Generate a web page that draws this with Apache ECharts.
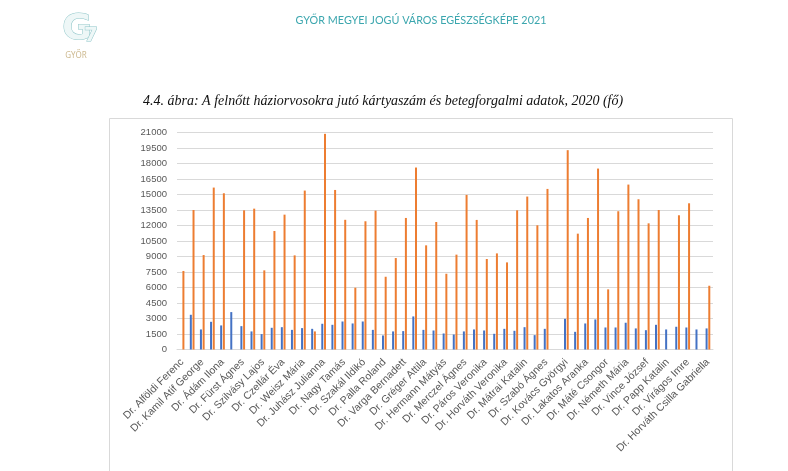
<!DOCTYPE html>
<html>
<head>
<meta charset="utf-8">
<script src="https://cdn.jsdelivr.net/npm/echarts@6/dist/echarts.min.js"></script>
<style>
html,body{margin:0;padding:0;background:#fff;}
#chart{width:788px;height:471px;}
</style>
</head>
<body>
<div id="chart"></div>
<script>
// Tick labels shown on the category axis (every other category carries a label)
const shownLabels = [
  "Dr. Alföldi Ferenc","Dr. Kamil Atif George","Dr. Ádám Ilona","Dr. Fürst Ágnes",
  "Dr. Szilvásy Lajos","Dr. Czellár Éva","Dr. Weisz Mária","Dr. Juhász Julianna",
  "Dr. Nagy Tamás","Dr. Szakál Ildikó","Dr. Palla Roland","Dr. Varga Bernadett",
  "Dr. Gréger Attila","Dr. Hermann Mátyás","Dr. Merczel Ágnes","Dr. Páros Veronika",
  "Dr. Horváth Veronika","Dr. Mátrai Katalin","Dr. Szabó Ágnes","Dr. Kovács Györgyi",
  "Dr. Lakatos Aranka","Dr. Máté Csongor","Dr. Németh Mária","Dr. Vince József",
  "Dr. Papp Katalin","Dr. Virágos Imre","Dr. Horváth Csilla Gabriella"
];
// Blue series: card numbers (kártyaszám) per doctor
const cardCounts = [
  null,3360,1940,2680,2330,3620,2260,1750,1490,2100,
  2160,1900,2070,2000,2490,2390,2710,2520,2710,1900,
  1360,1750,1780,3200,1900,1840,1550,1450,1750,1940,
  1840,1520,2000,1810,2160,1390,2000,null,2970,1710,
  2520,2910,2130,2130,2590,2040,1870,2390,1940,2200,
  2130,1940,2040
];
// Orange series: patient turnover (betegforgalom) per doctor
const patientTurnover = [
  7600,13500,9140,15670,15120,null,13470,13630,7660,11470,
  13050,9110,15380,1750,20870,15440,12550,5980,12410,13440,
  7040,8850,12730,17610,10080,12340,7330,9180,14960,12540,
  8760,9300,8430,13470,14800,12020,15540,null,19290,11210,
  12730,17510,5820,13380,15960,14540,12210,13500,null,12990,
  14150,null,6170
];
const yTicks = {min:0, max:21000, interval:1500};

// Build 53 categories: labelled ones at even positions, unlabelled in between
const categories = [];
for (let i = 0; i < cardCounts.length; i++) {
  categories.push(i % 2 === 0 ? shownLabels[i / 2] : "\u200b".repeat(i));
}

const chart = echarts.init(document.getElementById('chart'));
chart.setOption({
  animation:false,
  backgroundColor:'#ffffff',
  graphic:[
    {type:'rect', shape:{x:109.5,y:118.5,width:623,height:400}, style:{fill:'none',stroke:'#d9d9d9',lineWidth:1}, z:-1},
    {type:'text', style:{text:'GYŐR MEGYEI JOGÚ VÁROS EGÉSZSÉGKÉPE 2021', x:421, y:21, align:'center', verticalAlign:'middle', fill:'#3ba6ae', font:'10.8px Lato'}},
    {type:'text', style:{text:'4.4. ábra: A felnőtt háziorvosokra jutó kártyaszám és betegforgalmi adatok, 2020 (fő)', x:143, y:101, align:'left', verticalAlign:'middle', fill:'#111', font:'italic 14px "Liberation Serif"'}},
    {type:'text', style:{text:'G', x:77, y:30, align:'center', verticalAlign:'middle', fill:'#eef7f7', stroke:'#8fc6c9', lineWidth:1, font:'bold 36px "DejaVu Sans"'}},
    {type:'text', style:{text:'7', x:91, y:36, align:'center', verticalAlign:'middle', fill:'#eef7f7', stroke:'#8fc6c9', lineWidth:1, font:'bold 20px "DejaVu Sans"'}},
    {type:'text', style:{text:'GYŐR', x:76, y:56, align:'center', verticalAlign:'middle', fill:'#cdb98f', font:'8px "Noto Sans"'}}
  ],
  grid:{left:177, right:75, top:132.5, bottom:121.5, containLabel:false},
  xAxis:{
    type:'category',
    data:categories,
    axisLine:{show:true, lineStyle:{color:'#d9d9d9'}},
    axisTick:{show:false},
    axisLabel:{interval:1, rotate:45, color:'#595959', fontSize:10.5, fontFamily:'Liberation Sans', margin:11}
  },
  yAxis:{
    type:'value',
    min:yTicks.min, max:yTicks.max, interval:yTicks.interval,
    axisLine:{show:false}, axisTick:{show:false},
    splitLine:{lineStyle:{color:'#d9d9d9'}},
    axisLabel:{color:'#595959', fontSize:9.5, fontFamily:'Liberation Sans', margin:10, formatter:function(v){return String(v);}}
  },
  series:[
    {name:'Kártyaszám', type:'bar', data:cardCounts, barWidth:2, barGap:'35%', itemStyle:{color:'#4472c4'}},
    {name:'Betegforgalom', type:'bar', data:patientTurnover, barWidth:2, barGap:'35%', itemStyle:{color:'#ed7d31'}}
  ]
});
</script>
</body>
</html>
